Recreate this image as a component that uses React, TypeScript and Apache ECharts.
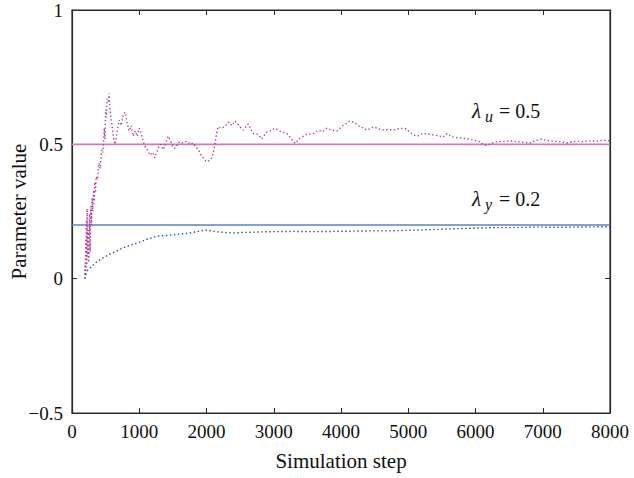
import React, { useEffect, useRef } from "react";
import * as echarts from "echarts";

const xTicks = [0, 1000, 2000, 3000, 4000, 5000, 6000, 7000, 8000];
const yTicks = [-0.5, 0, 0.5, 1];

const lambdaUSteps = [
  190, 195, 200, 205, 210, 215, 220, 225, 230, 240, 250, 260, 270, 280, 290, 300, 310, 320, 330, 340,
  350, 360, 380, 400, 420, 440, 460, 480, 490, 500, 510, 520, 540, 550, 560, 580, 600, 620, 640, 660,
  680, 700, 730, 760, 790, 820, 850, 880, 910, 940,
  970, 1000, 1030, 1060, 1090, 1120, 1160, 1200, 1230, 1260, 1290, 1320, 1360, 1400, 1430, 1470, 1500,
  1530, 1570, 1600, 1640, 1680, 1720, 1760, 1800, 1840, 1880, 1920, 1960, 2000, 2040, 2080, 2110, 2130,
  2150, 2170, 2220, 2270, 2330, 2380, 2425, 2480, 2545, 2620, 2695, 2770, 2820, 2895, 2950, 3015, 3090,
  3195, 3250, 3290, 3320, 3390, 3490, 3590, 3660, 3730, 3790, 3860, 3940, 4030, 4080, 4130, 4210, 4280,
  4340, 4390, 4480, 4540, 4610, 4690, 4770, 4860, 4950, 5060, 5130, 5220, 5300, 5370, 5450, 5520, 5575,
  5650, 5730, 5815, 5900, 5980, 6065, 6120, 6170, 6250, 6330, 6410, 6500, 6615, 6700, 6810, 6880, 6960,
  7050, 7150, 7250, 7360, 7450, 7530, 7600, 7700, 7800, 7900, 8000,
];
const lambdaUValues = [
  0.0, 0.06, 0.01, 0.15, 0.03, 0.22, 0.05, 0.26, 0.08, 0.18, 0.06, 0.24, 0.1, 0.27, 0.2, 0.3, 0.25, 0.33, 0.28, 0.36,
  0.32, 0.38, 0.37, 0.43, 0.41, 0.48, 0.47, 0.56, 0.52, 0.63, 0.6, 0.67, 0.66, 0.69, 0.64, 0.6, 0.56, 0.52, 0.5, 0.53,
  0.56, 0.59, 0.57, 0.61, 0.62, 0.58, 0.55, 0.57, 0.53, 0.55,
  0.53, 0.56, 0.54, 0.51, 0.49, 0.48, 0.46, 0.47, 0.45, 0.47, 0.49, 0.5, 0.48, 0.51, 0.53, 0.51, 0.49,
  0.485, 0.5, 0.51, 0.505, 0.51, 0.51, 0.5, 0.505, 0.49, 0.48, 0.46, 0.445, 0.435, 0.44, 0.45, 0.48, 0.51,
  0.54, 0.565, 0.56, 0.565, 0.583, 0.57, 0.587, 0.57, 0.553, 0.576, 0.54, 0.537, 0.52, 0.545, 0.55, 0.56, 0.55,
  0.54, 0.525, 0.51, 0.504, 0.523, 0.537, 0.54, 0.553, 0.547, 0.56, 0.553, 0.55, 0.57, 0.578, 0.587, 0.58, 0.565,
  0.56, 0.553, 0.565, 0.56, 0.553, 0.555, 0.553, 0.558, 0.56, 0.538, 0.53, 0.54, 0.538, 0.535, 0.532, 0.527, 0.54,
  0.528, 0.525, 0.523, 0.52, 0.515, 0.51, 0.498, 0.496, 0.505, 0.51, 0.51, 0.513, 0.51, 0.508, 0.505, 0.512, 0.52,
  0.515, 0.512, 0.51, 0.505, 0.51, 0.512, 0.51, 0.513, 0.512, 0.515, 0.513,
];

const lambdaYSteps = [
  190, 210, 230, 268, 310, 380, 460, 550, 640, 720, 815, 910, 1010, 1130, 1260, 1360, 1460, 1600, 1755,
  1880, 2000, 2080, 2150, 2270, 2390, 2550, 2790, 3000, 3300, 3600, 3900, 4200, 4500, 4730, 5000, 5130,
  5400, 5700, 6000, 6300, 6600, 6900, 7200, 7500, 7800, 8000,
];
const lambdaYValues = [
  0.0, 0.02, 0.03, 0.04, 0.05, 0.065, 0.077, 0.09, 0.1, 0.11, 0.12, 0.128, 0.137, 0.148, 0.158, 0.16, 0.162,
  0.166, 0.17, 0.176, 0.181, 0.178, 0.175, 0.172, 0.17, 0.172, 0.174, 0.175, 0.176, 0.175, 0.176, 0.177,
  0.178, 0.178, 0.18, 0.181, 0.183, 0.186, 0.188, 0.19, 0.19, 0.192, 0.191, 0.192, 0.193, 0.193,
];

const trueU = 0.5;
const trueY = 0.2;

const FONT = "'Liberation Serif', 'DejaVu Serif', serif";
const MAGENTA = "#b0409c";
const MAGENTA_LINE = "#c97cb8";
const BLUE = "#2a48a8";
const BLUE_LINE = "#5f7fc2";
const AXIS = "#2a2a2a";

export default function App() {
  const ref = useRef<HTMLDivElement>(null);
  useEffect(() => {
    if (!ref.current) return;
    const chart = echarts.init(ref.current, undefined, { renderer: "svg" });
    const fmtY = (v: number) => (v < 0 ? "\u2212" + Math.abs(v) : String(v));
    const fmtX = (v: number) => String(v);
    const xMin = xTicks[0];
    const xMax = xTicks[xTicks.length - 1];
    const tick = () => ({ show: true, inside: true, length: 5, lineStyle: { color: AXIS, width: 1 } });
    const line = () => ({ show: true, onZero: false, lineStyle: { color: AXIS, width: 1.2 } });
    chart.setOption({
      animation: false,
      backgroundColor: "#ffffff",
      grid: {
        left: 72,
        right: 24,
        top: 10,
        bottom: 65,
        containLabel: false,
        outerBoundsMode: "none",
        show: true,
        borderColor: AXIS,
        borderWidth: 1.2,
        backgroundColor: "transparent",
      },
      xAxis: [
        {
          type: "value",
          position: "bottom",
          min: xMin,
          max: xMax,
          interval: 1000,
          axisLine: line(),
          axisTick: tick(),
          splitLine: { show: false },
          axisLabel: { color: "#111", fontFamily: FONT, fontSize: 19, margin: 9, formatter: fmtX },
          name: "Simulation step",
          nameLocation: "middle",
          nameGap: 37,
          nameMoveOverlap: false,
          nameTextStyle: { color: "#111", fontFamily: FONT, fontSize: 21 },
        },
        {
          type: "value",
          position: "top",
          min: xMin,
          max: xMax,
          interval: 1000,
          axisLine: line(),
          axisTick: tick(),
          splitLine: { show: false },
          axisLabel: { show: false },
        },
      ],
      yAxis: [
        {
          type: "value",
          position: "left",
          min: yTicks[0],
          max: yTicks[yTicks.length - 1],
          interval: 0.5,
          axisLine: line(),
          axisTick: tick(),
          splitLine: { show: false },
          axisLabel: { color: "#111", fontFamily: FONT, fontSize: 19, margin: 9, formatter: fmtY },
          name: "Parameter value",
          nameLocation: "middle",
          nameGap: 43,
          nameMoveOverlap: false,
          nameTextStyle: { color: "#111", fontFamily: FONT, fontSize: 21 },
        },
        {
          type: "value",
          position: "right",
          min: yTicks[0],
          max: yTicks[yTicks.length - 1],
          interval: 0.5,
          axisLine: line(),
          axisTick: tick(),
          splitLine: { show: false },
          axisLabel: { show: false },
        },
      ],
      series: [
        {
          type: "line",
          xAxisIndex: 1,
          yAxisIndex: 1,
          data: [
            [xMin, trueU],
            [xMax, trueU],
          ],
          symbol: "none",
          lineStyle: { color: MAGENTA_LINE, width: 1.6 },
          z: 2,
        },
        {
          type: "line",
          xAxisIndex: 1,
          yAxisIndex: 1,
          data: [
            [xMin, trueY],
            [xMax, trueY],
          ],
          symbol: "none",
          lineStyle: { color: BLUE_LINE, width: 1.6 },
          z: 2,
        },
        {
          type: "line",
          data: lambdaUSteps.map((s, i) => [s, lambdaUValues[i]]),
          symbol: "none",
          lineStyle: { color: MAGENTA, width: 1.4, type: [1.4, 2.4] },
          z: 3,
        },
        {
          type: "line",
          data: lambdaYSteps.map((s, i) => [s, lambdaYValues[i]]),
          symbol: "none",
          lineStyle: { color: BLUE, width: 1.4, type: [1.4, 2.6] },
          z: 3,
        },
      ],
      graphic: [
        { type: "text", x: 472, y: 100, style: { text: "\u03bb", fontFamily: FONT, fontStyle: "italic", fontSize: 21, fill: "#111" } },
        { type: "text", x: 485, y: 108, style: { text: "u", fontFamily: FONT, fontStyle: "italic", fontSize: 16, fill: "#111" } },
        { type: "text", x: 499, y: 101, style: { text: "= 0.5", fontFamily: FONT, fontSize: 20, fill: "#111" } },
        { type: "text", x: 472, y: 188, style: { text: "\u03bb", fontFamily: FONT, fontStyle: "italic", fontSize: 21, fill: "#111" } },
        { type: "text", x: 485, y: 196, style: { text: "y", fontFamily: FONT, fontStyle: "italic", fontSize: 16, fill: "#111" } },
        { type: "text", x: 499, y: 189, style: { text: "= 0.2", fontFamily: FONT, fontSize: 20, fill: "#111" } },
      ],
    });
    return () => chart.dispose();
  }, []);
  return (
    <div
      ref={ref}
      style={{ position: "fixed", left: 0, top: 0, width: 634, height: 478, background: "#fff" }}
    />
  );
}
